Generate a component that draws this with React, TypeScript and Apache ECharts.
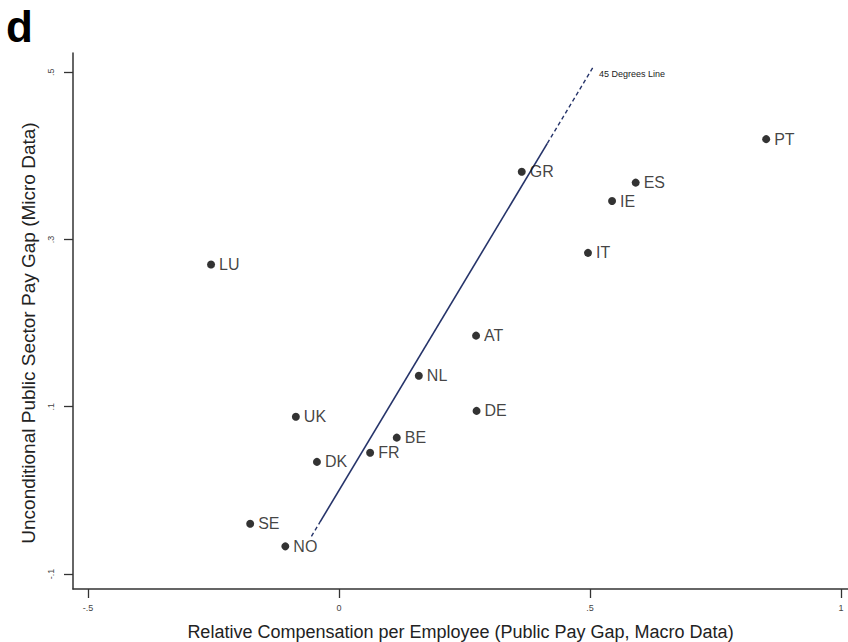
import React, { useEffect, useRef } from "react";
import * as echarts from "echarts";

const countries = ["PT", "GR", "ES", "IE", "IT", "LU", "AT", "NL", "DE", "UK", "BE", "FR", "DK", "SE", "NO"];
const macroGap = [0.851, 0.364, 0.591, 0.544, 0.496, -0.255, 0.273, 0.159, 0.274, -0.086, 0.115, 0.062, -0.044, -0.177, -0.107];
const microGap = [0.42, 0.381, 0.368, 0.346, 0.284, 0.27, 0.185, 0.137, 0.095, 0.088, 0.063, 0.045, 0.034, -0.04, -0.067];

const xTicks = [-0.5, 0, 0.5, 1];
const yTicks = [-0.1, 0.1, 0.3, 0.5];

// 45 degree line: dashed low end, solid middle, dashed top end
const lineLow = [-0.055, -0.038];
const lineSolid = [-0.038, 0.415];
const lineHigh = [0.415, 0.506];

const fmt = (v: number) => {
  if (v === 0) return "0";
  const s = String(Math.round(v * 100) / 100);
  return s.replace(/^(-?)0\./, "$1.");
};

export default function App() {
  const ref = useRef<HTMLDivElement>(null);
  useEffect(() => {
    if (!ref.current) return;
    const chart = echarts.init(ref.current, undefined, { renderer: "svg" });
    const lineColor = "#26346a";
    const font = "'Liberation Sans', Arial, sans-serif";
    chart.setOption({
      animation: false,
      textStyle: { fontFamily: font },
      graphic: [
        {
          type: "text",
          left: 6,
          top: 4,
          style: { text: "d", fontSize: 44, fontWeight: "bold", fill: "#000", fontFamily: font },
        },
      ],
      grid: { left: 73, right: 0, top: 53, bottom: 53, outerBoundsMode: "none" },
      xAxis: {
        type: "value",
        min: -0.53,
        max: 1.014,
        splitLine: { show: false },
        axisLine: { show: true, onZero: false, lineStyle: { color: "#333", width: 1.5 } },
        axisTick: { show: true, customValues: xTicks, length: 9, lineStyle: { color: "#333", width: 1.3 } },
        axisLabel: { customValues: xTicks, formatter: fmt, fontSize: 9, color: "#444", margin: 14 },
        name: "Relative Compensation per Employee (Public Pay Gap, Macro Data)",
        nameLocation: "middle",
        nameGap: 34,
        nameTextStyle: { fontSize: 18, color: "#222" },
      },
      yAxis: {
        type: "value",
        min: -0.118,
        max: 0.523,
        splitLine: { show: false },
        axisLine: { show: true, onZero: false, lineStyle: { color: "#333", width: 1.5 } },
        axisTick: { show: true, customValues: yTicks, length: 9, lineStyle: { color: "#333", width: 1.3 } },
        axisLabel: { customValues: yTicks, formatter: fmt, fontSize: 9, color: "#444", margin: 18, rotate: 90 },
        name: "Unconditional Public Sector Pay Gap (Micro Data)",
        nameLocation: "middle",
        nameGap: 33,
        nameTextStyle: { fontSize: 19, color: "#222", padding: [0, 24, 0, 0] },
      },
      series: [
        {
          type: "line",
          data: [[lineLow[0], lineLow[0]], [lineLow[1], lineLow[1]]],
          symbol: "none",
          lineStyle: { color: lineColor, width: 1.4, type: [4, 3] },
          z: 1,
        },
        {
          type: "line",
          data: [[lineSolid[0], lineSolid[0]], [lineSolid[1], lineSolid[1]]],
          symbol: "none",
          lineStyle: { color: lineColor, width: 1.6 },
          z: 1,
        },
        {
          type: "line",
          data: [[lineHigh[0], lineHigh[0]], [lineHigh[1], lineHigh[1]]],
          symbol: "none",
          lineStyle: { color: lineColor, width: 1.4, type: [4, 3] },
          endLabel: { show: true, formatter: "45 Degrees Line", fontSize: 9, color: "#222", distance: 6, offset: [0, 7] },
          z: 1,
        },
        {
          type: "scatter",
          symbol: "circle",
          symbolSize: 8,
          itemStyle: { color: "#000" },
          data: countries.map((c, i) => ({ value: [macroGap[i], microGap[i]], name: c })),
          label: {
            show: true,
            position: "right",
            distance: 4,
            formatter: (p: any) => p.name,
            fontSize: 16,
            color: "#111",
          },
          z: 3,
        },
      ],
    });
    return () => chart.dispose();
  }, []);
  return <div ref={ref} style={{ position: "fixed", left: 0, top: 0, width: 848, height: 642, background: "#fff" }} />;
}
